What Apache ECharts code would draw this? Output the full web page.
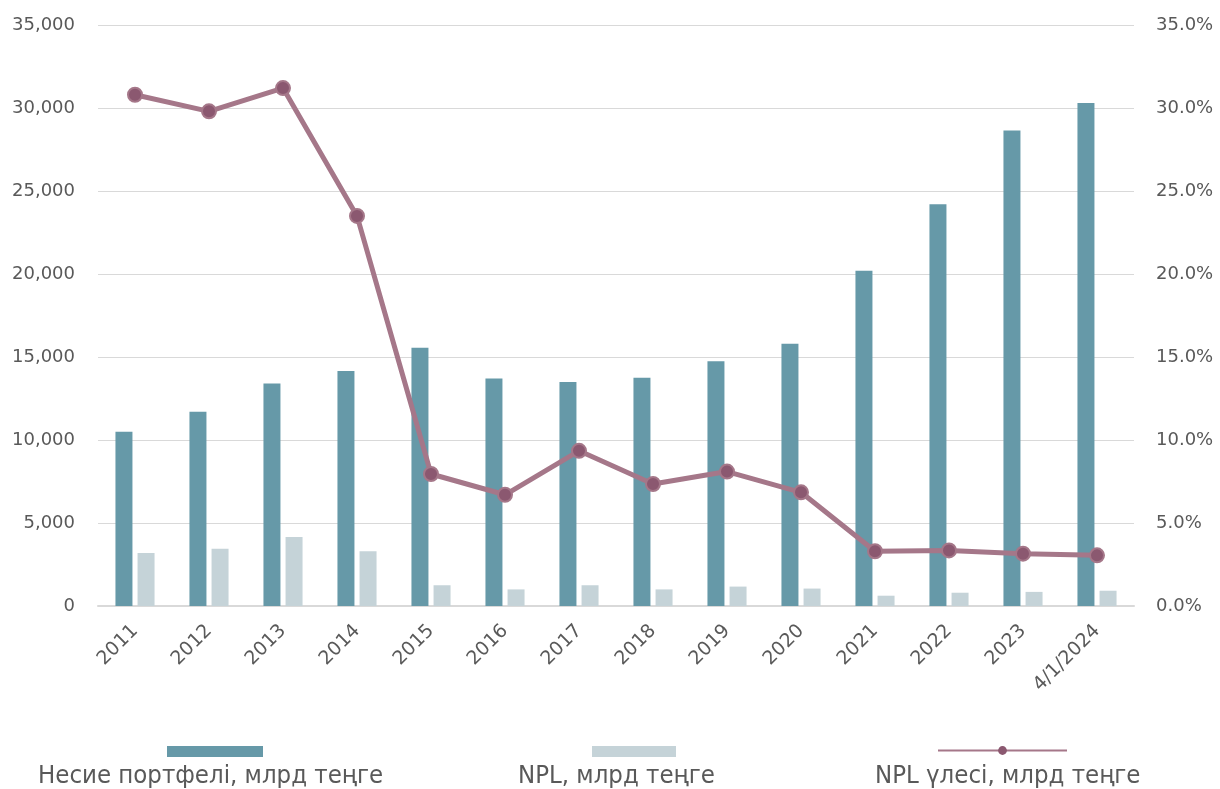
<!DOCTYPE html>
<html>
<head>
<meta charset="utf-8">
<script src="https://cdn.jsdelivr.net/npm/echarts@6/dist/echarts.min.js"></script>
<style>
    html,body{margin:0;padding:0;background:#fff;}
    #chart{width:1220px;height:789px;}
</style>
</head>
<body>
<div id="chart"></div>
<script>
// данные
var categories=["2011","2012","2013","2014","2015","2016","2017","2018","2019","2020","2021","2022","2023","4/1/2024"];
var portfolio=[10500,11700,13400,14150,15550,13700,13500,13750,14750,15800,20200,24200,28650,30300];
var npl=[3200,3450,4150,3300,1250,1000,1250,1000,1170,1050,620,800,850,920];
var nplShare=[30.8,29.8,31.2,23.5,7.95,6.7,9.35,7.35,8.1,6.85,3.3,3.35,3.15,3.05];
var names=["Несие портфелі, млрд теңге","NPL, млрд теңге","NPL үлесі, млрд теңге"];

var labelColor="#595959";
var font="DejaVu Sans";
var legendFont="'Liberation Sans Narrow','DejaVu Sans Condensed',sans-serif";

var oChart=echarts.init(document.getElementById("chart"));
var option={
    animation:false,
    grid:{
        left:98,
        right:86,
        top:25,
        bottom:183
    },
    legend:[
        {data:[names[0]],left:167,top:746,padding:0,itemWidth:96,itemHeight:11,icon:"rect",formatter:function(){return "";},selectedMode:false},
        {data:[names[1]],left:592,top:746,padding:0,itemWidth:84,itemHeight:11,icon:"rect",formatter:function(){return "";},selectedMode:false},
        {data:[names[2]],left:937,top:745,padding:0,itemWidth:129,itemHeight:11,formatter:function(){return "";},selectedMode:false,
            lineStyle:{width:2},itemStyle:{borderWidth:0}}
    ],
    graphic:[
        {type:"text",style:{text:names[0],fill:labelColor,font:"25.5px "+legendFont},left:38,top:763},
        {type:"text",style:{text:names[1],fill:labelColor,font:"25.5px "+legendFont},left:518,top:763},
        {type:"text",style:{text:names[2],fill:labelColor,font:"25.5px "+legendFont},left:875,top:763}
    ],
    xAxis:{
        type:"category",
        data:categories,
        axisLine:{lineStyle:{color:"#D9D9D9",width:2}},
        axisTick:{show:false},
        axisLabel:{
            rotate:45,
            interval:0,
            color:labelColor,
            fontFamily:font,
            fontSize:19,
            margin:22
        }
    },
    yAxis:[
        {
            type:"value",
            min:0,
            max:35000,
            interval:5000,
            axisLine:{show:false},
            axisTick:{show:false},
            splitLine:{lineStyle:{color:"#D9D9D9",width:1}},
            axisLabel:{
                color:labelColor,
                fontFamily:font,
                fontSize:18,
                margin:23,
                formatter:function(v){return v.toLocaleString("en-US");}
            }
        },
        {
            type:"value",
            min:0,
            max:35,
            interval:5,
            axisLine:{show:false},
            axisTick:{show:false},
            splitLine:{show:false},
            axisLabel:{
                color:labelColor,
                fontFamily:font,
                fontSize:18,
                margin:22,
                formatter:function(v){return v.toFixed(1)+"%";}
            }
        }
    ],
    series:[
        {
            name:names[0],
            type:"bar",
            data:portfolio,
            barWidth:17,
            barGap:"30%",
            itemStyle:{color:"#6699A8"}
        },
        {
            name:names[1],
            type:"bar",
            data:npl,
            barWidth:17,
            itemStyle:{color:"#C5D3D8"}
        },
        {
            name:names[2],
            type:"line",
            yAxisIndex:1,
            data:nplShare,
            symbol:"circle",
            symbolSize:14,
            lineStyle:{color:"#A57789",width:5},
            itemStyle:{color:"#8B5870",borderColor:"#A57789",borderWidth:2}
        }
    ]
};
oChart.setOption(option);
</script>
</body>
</html>
